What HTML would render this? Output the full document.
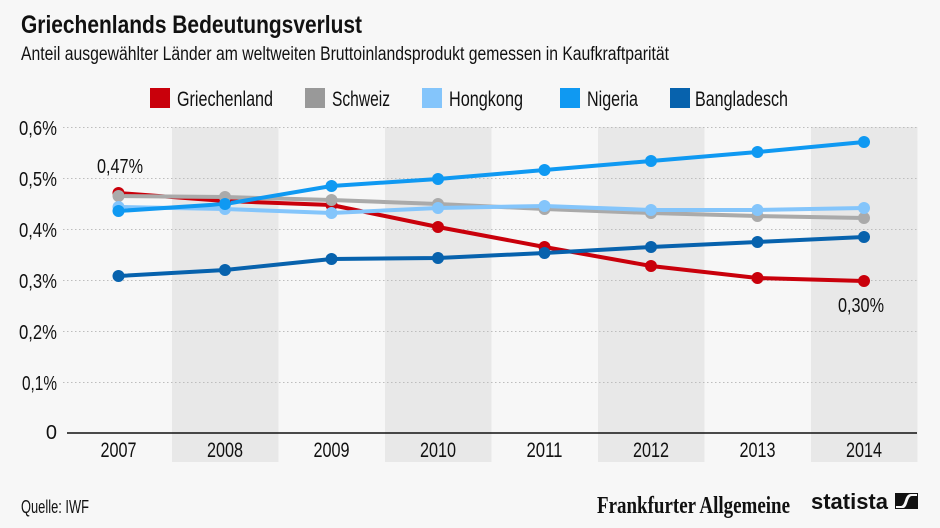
<!DOCTYPE html>
<html><head><meta charset="utf-8"><style>
html,body{margin:0;padding:0;background:#f7f7f7;}
svg{display:block;}
text{font-family:"Liberation Sans Narrow","Liberation Sans",sans-serif;fill:#111;}
</style></head><body>
<svg width="940" height="528" viewBox="0 0 940 528" xmlns="http://www.w3.org/2000/svg">
<rect x="0" y="0" width="940" height="528" fill="#f7f7f7"/>
<text x="21" y="33" font-size="25" font-weight="bold" textLength="341" lengthAdjust="spacingAndGlyphs" style="font-family:'Liberation Sans',sans-serif">Griechenlands Bedeutungsverlust</text>
<text x="21" y="60" font-size="19" textLength="648" lengthAdjust="spacingAndGlyphs" fill="#222">Anteil ausgewählter Länder am weltweiten Bruttoinlandsprodukt gemessen in Kaufkraftparität</text>
<!-- legend -->
<rect x="150" y="88" width="20" height="20" fill="#c9000b"/>
<text x="177" y="106" font-size="21" textLength="96" lengthAdjust="spacingAndGlyphs" fill="#222">Griechenland</text>
<rect x="305" y="88" width="20" height="20" fill="#999999"/>
<text x="332" y="106" font-size="21" textLength="58" lengthAdjust="spacingAndGlyphs" fill="#222">Schweiz</text>
<rect x="422" y="88" width="20" height="20" fill="#84c5fb"/>
<text x="449" y="106" font-size="21" textLength="74" lengthAdjust="spacingAndGlyphs" fill="#222">Hongkong</text>
<rect x="560" y="88" width="20" height="20" fill="#0f99f2"/>
<text x="587" y="106" font-size="21" textLength="51" lengthAdjust="spacingAndGlyphs" fill="#222">Nigeria</text>
<rect x="670" y="88" width="20" height="20" fill="#0762ad"/>
<text x="695" y="106" font-size="21" textLength="93" lengthAdjust="spacingAndGlyphs" fill="#222">Bangladesch</text>
<!-- bands -->
<rect x="172" y="127" width="106.5" height="335" fill="#e8e8e8"/>
<rect x="385" y="127" width="106.5" height="335" fill="#e8e8e8"/>
<rect x="598" y="127" width="106.5" height="335" fill="#e8e8e8"/>
<rect x="811" y="127" width="106.5" height="335" fill="#e8e8e8"/>
<!-- grid -->
<g stroke="#bdbdbd" stroke-width="1" stroke-dasharray="1.5,2.5">
<line x1="63" y1="127.5" x2="917" y2="127.5"/>
<line x1="63" y1="178.5" x2="917" y2="178.5"/>
<line x1="63" y1="229.5" x2="917" y2="229.5"/>
<line x1="63" y1="280.5" x2="917" y2="280.5"/>
<line x1="63" y1="331.5" x2="917" y2="331.5"/>
<line x1="63" y1="382.5" x2="917" y2="382.5"/>
</g>
<line x1="67" y1="433" x2="917" y2="433" stroke="#111" stroke-width="1.6"/>
<!-- y labels -->
<g font-size="20" text-anchor="end" fill="#222">
<text x="57" y="135" textLength="38" lengthAdjust="spacingAndGlyphs">0,6%</text>
<text x="57" y="186" textLength="38" lengthAdjust="spacingAndGlyphs">0,5%</text>
<text x="57" y="237" textLength="38" lengthAdjust="spacingAndGlyphs">0,4%</text>
<text x="57" y="288" textLength="38" lengthAdjust="spacingAndGlyphs">0,3%</text>
<text x="57" y="339" textLength="38" lengthAdjust="spacingAndGlyphs">0,2%</text>
<text x="57" y="390" textLength="35" lengthAdjust="spacingAndGlyphs">0,1%</text>
<text x="57" y="439">0</text>
</g>
<!-- x labels -->
<g font-size="21" text-anchor="middle" fill="#222">
<text x="118.5" y="457" textLength="36" lengthAdjust="spacingAndGlyphs">2007</text>
<text x="225" y="457" textLength="36" lengthAdjust="spacingAndGlyphs">2008</text>
<text x="331.5" y="457" textLength="36" lengthAdjust="spacingAndGlyphs">2009</text>
<text x="438" y="457" textLength="36" lengthAdjust="spacingAndGlyphs">2010</text>
<text x="544.5" y="457" textLength="36" lengthAdjust="spacingAndGlyphs">2011</text>
<text x="651" y="457" textLength="36" lengthAdjust="spacingAndGlyphs">2012</text>
<text x="757.5" y="457" textLength="36" lengthAdjust="spacingAndGlyphs">2013</text>
<text x="864" y="457" textLength="36" lengthAdjust="spacingAndGlyphs">2014</text>
</g>
<!-- series -->
<g fill="none" stroke-width="4" stroke-linejoin="round" stroke-linecap="round">
<polyline stroke="#c9000b" points="118.5,193 225,201 331.5,205 438,227 544.5,247 651,266 757.5,278 864,281"/>
<polyline stroke="#aaaaaa" points="118.5,196 225,197 331.5,200 438,204 544.5,209 651,213 757.5,216 864,218"/>
<polyline stroke="#84c5fb" points="118.5,207 225,209 331.5,213 438,208 544.5,206 651,210 757.5,210 864,208"/>
<polyline stroke="#0f99f2" points="118.5,211 225,204 331.5,186 438,179 544.5,170 651,161 757.5,152 864,142"/>
<polyline stroke="#0762ad" points="118.5,276 225,270 331.5,259 438,258 544.5,253 651,247 757.5,242 864,237"/>
</g>
<g fill="#c9000b">
<circle cx="118.5" cy="193" r="6"/><circle cx="225" cy="201" r="6"/><circle cx="331.5" cy="205" r="6"/><circle cx="438" cy="227" r="6"/><circle cx="544.5" cy="247" r="6"/><circle cx="651" cy="266" r="6"/><circle cx="757.5" cy="278" r="6"/><circle cx="864" cy="281" r="6"/>
</g>
<g fill="#aaaaaa">
<circle cx="118.5" cy="196" r="6"/><circle cx="225" cy="197" r="6"/><circle cx="331.5" cy="200" r="6"/><circle cx="438" cy="204" r="6"/><circle cx="544.5" cy="209" r="6"/><circle cx="651" cy="213" r="6"/><circle cx="757.5" cy="216" r="6"/><circle cx="864" cy="218" r="6"/>
</g>
<g fill="#84c5fb">
<circle cx="118.5" cy="207" r="6"/><circle cx="225" cy="209" r="6"/><circle cx="331.5" cy="213" r="6"/><circle cx="438" cy="208" r="6"/><circle cx="544.5" cy="206" r="6"/><circle cx="651" cy="210" r="6"/><circle cx="757.5" cy="210" r="6"/><circle cx="864" cy="208" r="6"/>
</g>
<g fill="#0f99f2">
<circle cx="118.5" cy="211" r="6"/><circle cx="225" cy="204" r="6"/><circle cx="331.5" cy="186" r="6"/><circle cx="438" cy="179" r="6"/><circle cx="544.5" cy="170" r="6"/><circle cx="651" cy="161" r="6"/><circle cx="757.5" cy="152" r="6"/><circle cx="864" cy="142" r="6"/>
</g>
<g fill="#0762ad">
<circle cx="118.5" cy="276" r="6"/><circle cx="225" cy="270" r="6"/><circle cx="331.5" cy="259" r="6"/><circle cx="438" cy="258" r="6"/><circle cx="544.5" cy="253" r="6"/><circle cx="651" cy="247" r="6"/><circle cx="757.5" cy="242" r="6"/><circle cx="864" cy="237" r="6"/>
</g>
<!-- annotations -->
<text x="120" y="173" font-size="20" text-anchor="middle" textLength="46" lengthAdjust="spacingAndGlyphs" fill="#222">0,47%</text>
<text x="861" y="312" font-size="20" text-anchor="middle" textLength="46" lengthAdjust="spacingAndGlyphs" fill="#222">0,30%</text>
<!-- footer -->
<text x="21" y="513" font-size="18" textLength="68" lengthAdjust="spacingAndGlyphs" fill="#222">Quelle: IWF</text>
<text x="597" y="513" font-size="24" font-weight="bold" textLength="193" lengthAdjust="spacingAndGlyphs" style="font-family:'Liberation Serif',serif">Frankfurter Allgemeine</text>
<text x="811" y="509" font-size="22" font-weight="bold" textLength="77" lengthAdjust="spacingAndGlyphs" style="font-family:'Liberation Sans',sans-serif">statista</text>
<rect x="895" y="493" width="23" height="16" fill="#111"/>
<path d="M896,508 L903,508 C908,508 907,496 912,496 L917,496 L917,494 L911,494 C904,494 906,505 901,506 L896,506 Z" fill="#f7f7f7"/>
</svg>
</body></html>
